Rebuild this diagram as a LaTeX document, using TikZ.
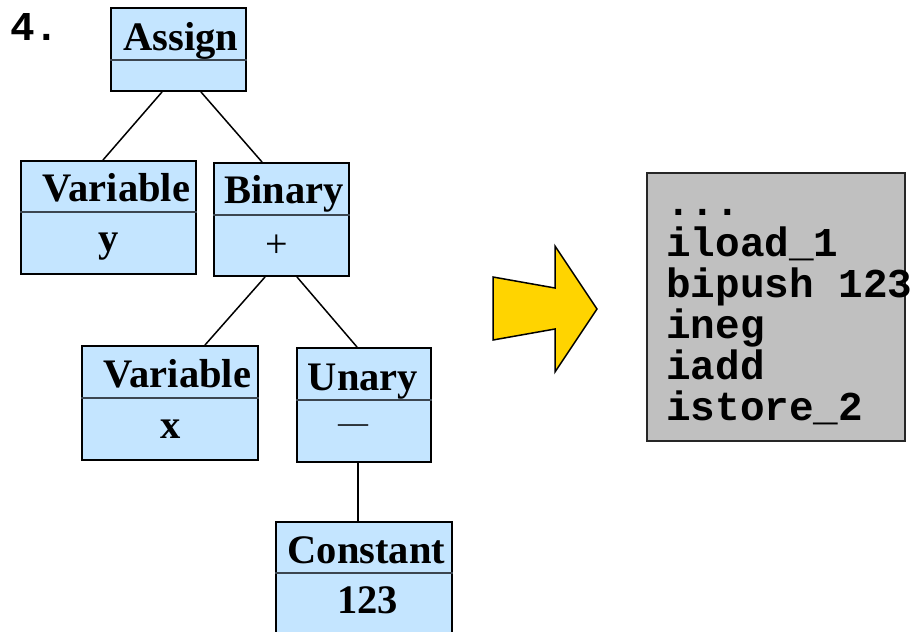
\documentclass[tikz,border=0pt]{standalone}
\usepackage{fontspec}
\setmainfont{Liberation Serif}
\newfontfamily\codefont{Liberation Mono}
\usetikzlibrary{calc}
\definecolor{boxblue}{HTML}{C4E5FF}
\definecolor{codegray}{HTML}{C0C0C0}
\definecolor{arrowgold}{HTML}{FFD400}
\definecolor{divgray}{HTML}{3C4650}
\tikzset{
  treebox/.style={draw=black, line width=2pt, fill=boxblue, inner sep=0pt, rectangle},
  divider/.style={draw=divgray, line width=1.2pt},
  title/.style={font=\fontsize{40.5}{44}\selectfont\bfseries, inner sep=0pt, anchor=base},
  value/.style={font=\fontsize{40.5}{44}\selectfont\bfseries, inner sep=0pt, anchor=base},
  symbol/.style={font=\fontsize{40}{44}\selectfont, inner sep=0pt, anchor=center},
  edge/.style={draw=black, line width=1.5pt},
  codebox/.style={draw=black!85, line width=2pt, fill=codegray, inner sep=0pt, rectangle},
  codetext/.style={font=\codefont\fontsize{41}{41}\selectfont\bfseries, inner sep=0pt,
    anchor=base west, text width=300pt, align=left},
  blockarrow/.style={draw=black, line width=1.5pt, fill=arrowgold, line join=miter}
}
\begin{document}
\begin{tikzpicture}[x=1pt, y=-1pt]
\path[use as bounding box, clip] (0,0) rectangle (924,632);

% item number
\node[font=\codefont\fontsize{41}{44}\selectfont\bfseries, inner sep=0pt, anchor=base west] (num) at (10,40) {4.};

% tree boxes
\node[treebox, minimum width=135pt, minimum height=83pt] (asg) at (178.5,49.5) {};
\node[treebox, minimum width=175pt, minimum height=113pt] (vy) at (108.5,217.5) {};
\node[treebox, minimum width=135pt, minimum height=113pt] (bin) at (281.5,219.5) {};
\node[treebox, minimum width=176pt, minimum height=114pt] (vx) at (170,403) {};
\node[treebox, minimum width=134pt, minimum height=114pt] (un) at (364,405) {};
\node[treebox, minimum width=176pt, minimum height=128pt] (con) at (364,586) {};

% compartment dividers
\draw[divider] (asg.west |- 0,60) -- (asg.east |- 0,60);
\draw[divider] (vy.west |- 0,212) -- (vy.east |- 0,212);
\draw[divider] (bin.west |- 0,215) -- (bin.east |- 0,215);
\draw[divider] (vx.west |- 0,398) -- (vx.east |- 0,398);
\draw[divider] (un.west |- 0,400) -- (un.east |- 0,400);
\draw[divider] (con.west |- 0,573) -- (con.east |- 0,573);

% compartment texts
\node[title] (asgT) at (181,50) {Assign};
\node[title] (vyT) at (116.5,201) {Variable};
\node[value] (vyV) at (109,251) {y};
\node[title] (binT) at (284,203) {Binary};
\node[symbol] (binV) at (277,246) {+};
\node[title] (vxT) at (177.5,387) {Variable};
\node[value] (vxV) at (171,438) {x};
\node[title] (unT) at (363,390) {Unary};
\node[symbol, font=\fontsize{30}{30}\selectfont] (unV) at (353,429) {—};
\node[title] (conT) at (366.5,563) {Constant};
\node[value] (conV) at (367.5,613) {123};

% tree edges
\draw[edge] ($(asg.south west)+(52,0)$) -- ($(vy.north west)+(83,0)$);
\draw[edge] ($(asg.south west)+(91,0)$) -- ($(bin.north west)+(49,0)$);
\draw[edge] ($(bin.south west)+(52,0)$) -- ($(vx.north west)+(124,0)$);
\draw[edge] ($(bin.south west)+(84,0)$) -- ($(un.north west)+(61,0)$);
\draw[edge] ($(un.south west)+(62,0)$) -- ($(con.north west)+(83,0)$);

% translation arrow
\draw[blockarrow] (493,277) -- (555,288) -- (555,246) -- (597,309) -- (555,372) -- (555,329) -- (493,340) -- cycle;

% bytecode listing (monospaced word space: full character cell)
\node[codebox, minimum width=258pt, minimum height=268pt] (code) at (776,307) {};
\node[codetext] (codeT) at (666,215) {\spaceskip=0pt\xspaceskip=0pt ...\\iload\_1\\bipush 123\\ineg\\iadd\\istore\_2};
\end{tikzpicture}
\end{document}
